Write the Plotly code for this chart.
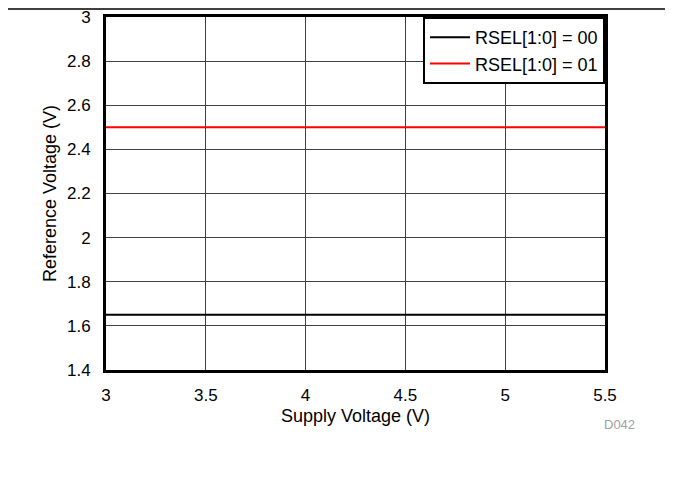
import plotly.graph_objs as go

# Reference voltage vs supply voltage
supply_v = [3.0, 5.5]
ref_rsel00 = [1.65, 1.65]
ref_rsel01 = [2.5, 2.5]
series_names = ["RSEL[1:0] = 00", "RSEL[1:0] = 01"]

font = "Liberation Sans, Arial, sans-serif"

fig = go.Figure()
fig.add_trace(go.Scatter(x=supply_v, y=ref_rsel00, mode="lines", name=series_names[0],
                         line=dict(color="black", width=2)))
fig.add_trace(go.Scatter(x=supply_v, y=ref_rsel01, mode="lines", name=series_names[1],
                         line=dict(color="#ff0000", width=2)))

axis_common = dict(showline=True, linewidth=3, linecolor="black", mirror=True,
                   showgrid=True, gridcolor="#404040", gridwidth=1, zeroline=False,
                   ticks="", tickfont=dict(size=17, color="black"), automargin=False,
                   ticklabeloverflow="allow")

# page body has an 8px margin, so the figure is sized to fit the window
fig.update_layout(
    width=665, height=485,
    margin=dict(l=98, r=68, t=9, b=123),
    paper_bgcolor="white", plot_bgcolor="white",
    font=dict(family=font, size=17, color="black"),
    xaxis=dict(range=[3, 5.5], dtick=0.5, tick0=3, ticklabelstandoff=8, **axis_common),
    yaxis=dict(range=[1.4, 3], dtick=0.2, tick0=1.4, ticklabelstandoff=9, **axis_common),
    legend=dict(x=1, y=1, xanchor="right", yanchor="top", bgcolor="white",
                bordercolor="black", borderwidth=2, font=dict(size=18),
                tracegroupgap=0, itemwidth=40),
    showlegend=True,
)

# axis titles
fig.add_annotation(text="Supply Voltage (V)", xref="paper", yref="paper", x=0.5, y=-0.095,
                   xanchor="center", yanchor="top", showarrow=False, font=dict(size=18))
fig.add_annotation(text="Reference Voltage (V)", xref="paper", yref="paper", x=-0.113, y=0.5,
                   xanchor="center", yanchor="middle", textangle=-90, showarrow=False,
                   font=dict(size=18))

# figure frame (top and right edges)
fig.add_shape(type="line", xref="paper", yref="paper", x0=-0.22, x1=1.13, y0=1.023, y1=1.023,
              line=dict(color="black", width=1.5))
fig.add_shape(type="line", xref="paper", yref="paper", x0=1.13, x1=1.13, y0=1.023, y1=-0.36,
              line=dict(color="black", width=1.5))

fig.add_annotation(text="D042", xref="paper", yref="paper", x=1.03, y=-0.155,
                   xanchor="center", yanchor="middle", showarrow=False,
                   font=dict(size=13, color="#a0a0a0"))

fig.write_html("out.html")
